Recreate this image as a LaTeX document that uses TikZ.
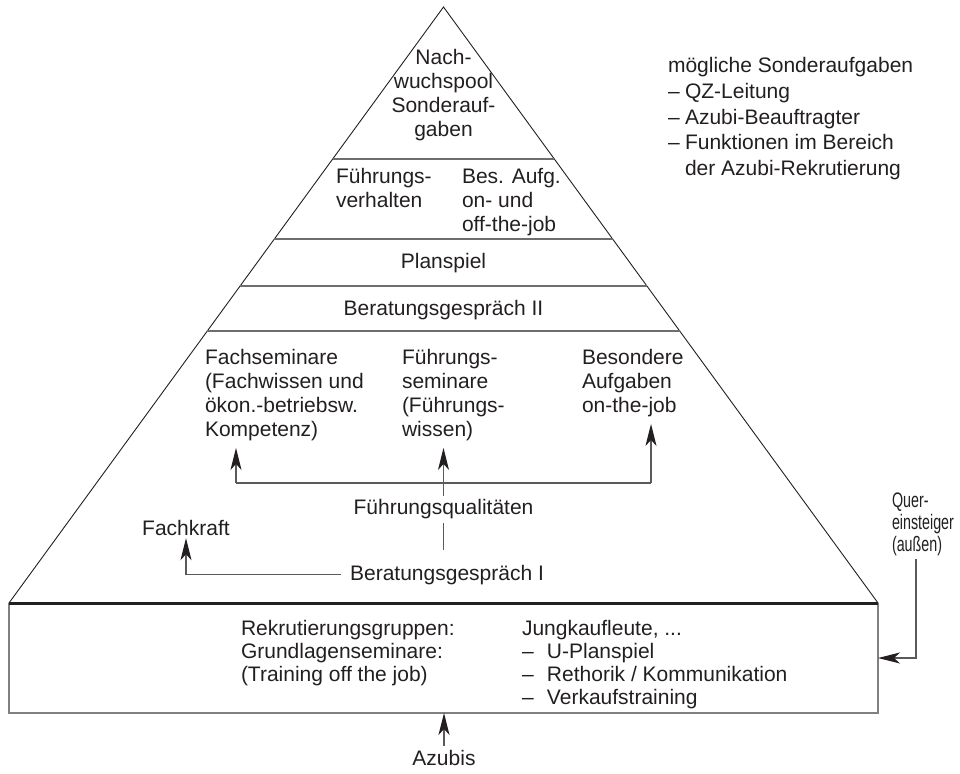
\documentclass[tikz,border=0pt]{standalone}
\usepackage{fontspec}
\setmainfont{Liberation Sans}
\newfontfamily\condfont[FakeStretch=0.68]{Liberation Sans}
\usetikzlibrary{arrows.meta,calc}
\definecolor{ink}{HTML}{231F20}
\definecolor{divgray}{HTML}{6E6E6E}
\definecolor{sidegray}{HTML}{808080}
\definecolor{conngray}{HTML}{5A5A5A}
\newcommand\topdash{\makebox[17pt][l]{–}}
\newcommand\boxdash{\makebox[25pt][l]{–}}
\begin{document}
\begin{tikzpicture}[x=1pt,y=-1pt,
  every node/.style={inner sep=0pt, outer sep=0pt, text=ink, font=\fontsize{21}{24}\selectfont},
  lbl/.style={align=left, anchor=north west},
  ctr/.style={align=center, anchor=north},
  divider/.style={draw=divgray, line width=1.6pt},
  pyredge/.style={draw=ink, line width=0.9pt},
  boxside/.style={draw=sidegray, line width=1.8pt},
  boxtop/.style={draw=ink, line width=3pt},
  conn/.style={draw=conngray, line width=1.3pt},
  arr/.style={-{Stealth[length=22pt,width=11pt,inset=6pt,color=ink]}},
]
\useasboundingbox (0,0) rectangle (960,773);

% base box and pyramid
\node[minimum width=869pt, minimum height=110pt] (box) at (443.5,658) {};
\coordinate (apex) at (443.5,7);
\draw[pyredge] (box.north west) -- (apex) -- (box.north east);
\foreach \t in {0.2550,0.3893,0.4681,0.5436}{
  \draw[divider] ($(apex)!\t!(box.north west)$) -- ($(apex)!\t!(box.north east)$);
}
\draw[boxside] (box.north west) -- (box.south west) -- (box.south east) -- (box.north east);
\draw[boxtop] (box.north west) -- (box.north east);

% pyramid texts
\node[ctr] (np) at (443.5,47.2) {\strut Nach-\\wuchspool\\Sonderauf-\\gaben};
\node[lbl] (fv) at (336,166.2) {\strut Führungs-\\verhalten};
\node[lbl] (ba) at (462,166.2) {\strut Bes. Aufg.\\on- und\\off-the-job};
\node[anchor=base] (ps) at (443.5,268) {Planspiel};
\node[anchor=base] (bg2) at (443.5,315) {Beratungsgespräch II};
\node[lbl] (fs) at (205,347.2) {\strut Fachseminare\\(Fachwissen und\\ökon.-betriebsw.\\Kompetenz)};
\node[lbl] (fsem) at (402,347.2) {\strut Führungs-\\seminare\\(Führungs-\\wissen)};
\node[lbl] (bes) at (582,347.2) {\strut Besondere\\Aufgaben\\on-the-job};
\node[anchor=base] (fq) at (443.5,514) {Führungsqualitäten};
\node[anchor=base] (bg1) at (447,580) {Beratungsgespräch I};
\node[anchor=base] (fk) at (186,535) {Fachkraft};

% right notes
\node[lbl, font=\fontsize{21}{25.5}\selectfont] (ms) at (668,55.15)
  {\strut mögliche Sonderaufgaben\\\topdash QZ-Leitung\\\topdash Azubi-Beauftragter\\\topdash Funktionen im Bereich\\\hspace*{17pt}der Azubi-Rekrutierung};

% box texts
\node[lbl, font=\fontsize{21}{23}\selectfont] (rk) at (241,618.9)
  {\strut Rekrutierungsgruppen:\\Grundlagenseminare:\\(Training off the job)};
\node[lbl, font=\fontsize{21}{23}\selectfont] (jk) at (522,618.9)
  {\strut Jungkaufleute, ...\\\boxdash U-Planspiel\\\boxdash Rethorik / Kommunikation\\\boxdash Verkaufstraining};

% outside labels
\node[anchor=base] (az) at (444,765) {Azubis};
\node[lbl, font=\condfont\fontsize{21}{22}\selectfont] (qe) at (892,492.2)
  {\strut Quer-\\einsteiger\\(außen)};

% connectors
\coordinate (hl) at (236,483);
\coordinate (hr) at (651,483);
\draw[conn] (hl) -- (hr);
\draw[conn,arr,shorten >=7.6pt] (hl) -- (hl |- fs.south);
\draw[conn,arr,shorten >=7.6pt] (hr) -- (hr |- bes.south);
\draw[conn,arr,shorten <=3pt,shorten >=7.6pt] (fq.north) -- (fq.north |- fsem.south);
\draw[conn,shorten <=5pt,shorten >=14.7pt] (fq.south) -- (fq.south |- bg1.north);
\draw[conn,arr,shorten <=9pt,shorten >=3pt] (bg1.west) -| (fk.south);
\draw[conn,arr,shorten <=4pt] (az.north) -- (az.north |- box.south);
\coordinate (qb) at (916,658);
\draw[conn,arr,shorten <=3pt] (qb |- qe.south) -- (qb) -- (box.east);
\end{tikzpicture}
\end{document}
